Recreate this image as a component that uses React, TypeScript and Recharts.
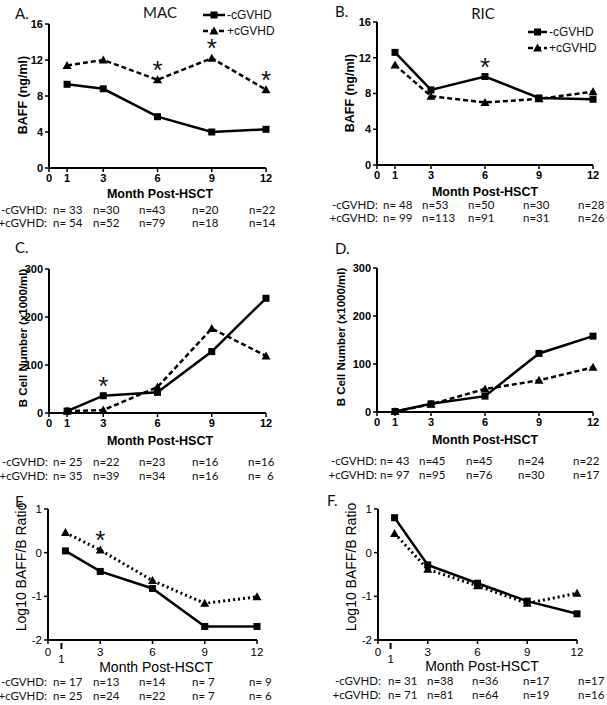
import React from 'react';
import { LineChart, Line, XAxis, YAxis } from 'recharts';

const months = [1, 3, 6, 9, 12];
const monthTicks = [0, 1, 3, 6, 9, 12];

// A. MAC - BAFF (ng/ml)
const macBaffNeg = [9.3, 8.8, 5.7, 4.0, 4.3];
const macBaffPos = [11.4, 12.0, 9.8, 12.2, 8.7];
const macBaffStars = [6, 9, 12];
// B. RIC - BAFF (ng/ml)
const ricBaffNeg = [12.6, 8.4, 9.9, 7.5, 7.35];
const ricBaffPos = [11.2, 7.7, 7.0, 7.4, 8.2];
const ricBaffStars = [6];
// C. MAC - B cell number (x1000/ml)
const macBcellNeg = [4, 36, 43, 128, 239];
const macBcellPos = [4, 6, 54, 176, 119];
const macBcellStars = [3];
// D. RIC - B cell number (x1000/ml)
const ricBcellNeg = [1, 17, 33, 122, 158];
const ricBcellPos = [1, 16, 48, 66, 93];
// E. MAC - log10 BAFF/B ratio
const macRatioNeg = [0.04, -0.43, -0.82, -1.69, -1.69];
const macRatioPos = [0.46, 0.06, -0.64, -1.16, -1.01];
const macRatioStars = [3];
// F. RIC - log10 BAFF/B ratio
const ricRatioNeg = [0.8, -0.28, -0.7, -1.11, -1.4];
const ricRatioPos = [0.44, -0.38, -0.76, -1.16, -0.93];

const baffTicks = [0, 4, 8, 12, 16];
const bcellTicks = [0, 100, 200, 300];
const ratioTicks = [-2, -1, 0, 1];

// patients per time point
const nMacBaffNeg = ['n= 33', 'n=30', 'n=43', 'n=20', 'n=22'];
const nMacBaffPos = ['n= 54', 'n=52', 'n=79', 'n=18', 'n=14'];
const nRicBaffNeg = ['n= 48', 'n=53', 'n=50', 'n=30', 'n=28'];
const nRicBaffPos = ['n= 99', 'n=113', 'n=91', 'n=31', 'n=26'];
const nMacBcellNeg = ['n= 25', 'n=22', 'n=23', 'n=16', 'n=16'];
const nMacBcellPos = ['n= 35', 'n=39', 'n=34', 'n=16', 'n=  6'];
const nRicBcellNeg = ['n= 43', 'n=45', 'n=45', 'n=24', 'n=22'];
const nRicBcellPos = ['n= 97', 'n=95', 'n=76', 'n=30', 'n=17'];
const nMacRatioNeg = ['n= 17', 'n=13', 'n=14', 'n= 7', 'n= 9'];
const nMacRatioPos = ['n= 25', 'n=24', 'n=22', 'n= 7', 'n= 6'];
const nRicRatioNeg = ['n= 31', 'n=38', 'n=36', 'n=17', 'n=17'];
const nRicRatioPos = ['n= 71', 'n=81', 'n=64', 'n=19', 'n=16'];

const negName = '-cGVHD';
const posName = '+cGVHD';
const xTitle = 'Month Post-HSCT';
const baffTitle = 'BAFF (ng/ml)';
const bcellTitle = 'B Cell Number (x1000/ml)';
const ratioTitle = 'Log10 BAFF/B Ratio';

const AXIS_FONT = '"Liberation Sans", Arial, sans-serif';
const TEXT_FONT = 'Lato, "Open Sans", sans-serif';

const makeDot = (shape: 'square' | 'tri', stars: number[]) => (p: any) => {
  const { cx, cy, index, payload } = p;
  if (cx == null || cy == null) return <g key={`d${index}`} />;
  const star = stars.includes(payload.month);
  return (
    <g key={`d${shape}${index}`}>
      {shape === 'square' ? (
        <rect x={cx - 3.5} y={cy - 3.5} width={7} height={7} fill="#000" />
      ) : (
        <polygon
          points={`${cx},${cy - 4.5} ${cx + 4.5},${cy + 3.5} ${cx - 4.5},${cy + 3.5}`}
          fill="#000"
        />
      )}
      {star && (
        <text x={cx} y={cy - 1} textAnchor="middle" fontSize={26} fontFamily={AXIS_FONT} fill="#111">
          *
        </text>
      )}
    </g>
  );
};

// E/F style ticks: the "1" sits lower with its own short mark
const RatioTick = (p: any) => {
  const { x, y, payload } = p;
  const one = payload.value === 1;
  return (
    <g>
      {one ? (
        <line x1={x - 4} x2={x - 4} y1={y - 3} y2={y + 3} stroke="#000" strokeWidth={2} />
      ) : (
        <line x1={x} x2={x} y1={y - 6} y2={y - 2} stroke="#000" strokeWidth={1.5} />
      )}
      <text
        x={one ? x - 4 : x}
        y={one ? y + 17 : y + 10}
        textAnchor="middle"
        fontSize={11.5}
        fontFamily={AXIS_FONT}
        fill="#000"
      >
        {payload.value}
      </text>
    </g>
  );
};

type PanelProps = {
  left: number;
  top: number;
  width: number;
  height: number;
  mTop: number;
  mRight: number;
  yWidth: number;
  xHeight: number;
  neg: number[];
  pos: number[];
  yDomain: [number, number];
  yTicks: number[];
  posDash: string;
  negStars: number[];
  posStars: number[];
  ratio?: boolean;
};

function Panel(props: PanelProps) {
  const rows = months.map((m, i) => ({ month: m, neg: props.neg[i], pos: props.pos[i] }));
  return (
    <div style={{ position: 'absolute', left: props.left, top: props.top }}>
      <LineChart
        width={props.width}
        height={props.height}
        data={rows}
        margin={{ top: props.mTop, right: props.mRight, left: 0, bottom: 0 }}
      >
        <XAxis
          dataKey="month"
          type="number"
          domain={[0, 12]}
          ticks={monthTicks}
          interval={0}
          height={props.xHeight}
          axisLine={{ stroke: '#000', strokeWidth: 2 }}
          tickLine={props.ratio ? false : { stroke: '#000', strokeWidth: 1.5 }}
          tickSize={4}
          tickMargin={2}
          tick={
            props.ratio
              ? RatioTick
              : { fontSize: 11, fontWeight: 700, fill: '#000', fontFamily: AXIS_FONT }
          }
        />
        <YAxis
          type="number"
          domain={props.yDomain}
          ticks={props.yTicks}
          interval={0}
          width={props.yWidth}
          axisLine={{ stroke: '#000', strokeWidth: 2 }}
          tickLine={{ stroke: '#000', strokeWidth: 1.5 }}
          tickSize={4}
          tickMargin={2}
          tick={{
            fontSize: props.ratio ? 11.5 : 11,
            fontWeight: props.ratio ? 400 : 700,
            fill: '#000',
            fontFamily: AXIS_FONT,
          }}
        />
        <Line
          dataKey="pos"
          name={posName}
          type="linear"
          stroke="#000"
          strokeWidth={props.ratio ? 3 : 2.5}
          strokeDasharray={props.posDash}
          dot={makeDot('tri', props.posStars)}
          activeDot={false}
          isAnimationActive={false}
        />
        <Line
          dataKey="neg"
          name={negName}
          type="linear"
          stroke="#000"
          strokeWidth={2.5}
          dot={makeDot('square', props.negStars)}
          activeDot={false}
          isAnimationActive={false}
        />
      </LineChart>
    </div>
  );
}

type TableProps = {
  labelRight: number;
  cols: number[];
  rowY: [number, number];
  neg: string[];
  pos: string[];
};

function NTable({ labelRight, cols, rowY, neg, pos }: TableProps) {
  const rows: [string, string[], number][] = [
    [negName + ':', neg, rowY[0]],
    [posName + ':', pos, rowY[1]],
  ];
  return (
    <g fontFamily={TEXT_FONT} fontSize={11.5} fill="#111">
      {rows.map(([label, vals, y]) => (
        <g key={label}>
          <text x={labelRight} y={y} textAnchor="end" style={{ whiteSpace: 'pre' }}>
            {label}
          </text>
          {vals.map((v, i) => (
            <text key={i} x={cols[i]} y={y} style={{ whiteSpace: 'pre' }}>
              {v}
            </text>
          ))}
        </g>
      ))}
    </g>
  );
}

function LegendKey({ x1, x2, y }: { x1: number; x2: number; y: number }) {
  const mid = (x1 + x2) / 2;
  return (
    <g fontFamily={AXIS_FONT} fontSize={12} fill="#111">
      <line x1={x1} x2={x2} y1={y} y2={y} stroke="#000" strokeWidth={2.5} />
      <rect x={mid - 3.5} y={y - 3.5} width={7} height={7} fill="#000" />
      <text x={x2 + 2} y={y + 4}>{negName}</text>
      <line x1={x1} x2={x2} y1={y + 16} y2={y + 16} stroke="#000" strokeWidth={2.5} strokeDasharray="5 3" />
      <polygon
        points={`${mid},${y + 11.5} ${mid + 4.5},${y + 19.5} ${mid - 4.5},${y + 19.5}`}
        fill="#000"
      />
      <text x={x2 + 2} y={y + 20}>{posName}</text>
    </g>
  );
}

function YTitle({ x, y, text, size, bold }: { x: number; y: number; text: string; size: number; bold: boolean }) {
  return (
    <text
      transform={`translate(${x},${y}) rotate(-90)`}
      textAnchor="middle"
      dominantBaseline="central"
      fontFamily={AXIS_FONT}
      fontSize={size}
      fontWeight={bold ? 700 : 400}
      fill="#000"
      style={{ whiteSpace: 'pre' }}
    >
      {text}
    </text>
  );
}

function XTitle({ x, y, size, bold }: { x: number; y: number; size: number; bold: boolean }) {
  return (
    <text
      x={x}
      y={y}
      textAnchor="middle"
      fontFamily={AXIS_FONT}
      fontSize={size}
      fontWeight={bold ? 700 : 400}
      fill="#000"
    >
      {xTitle}
    </text>
  );
}

const leftCols = [53, 93, 139, 192, 249];

export default function App() {
  return (
    <div
      style={{
        position: 'absolute',
        left: 0,
        top: 0,
        width: 607,
        height: 705,
        background: '#fff',
        fontFamily: AXIS_FONT,
      }}
    >
      <Panel
        left={0} top={0} width={300} height={200}
        mTop={24} mRight={34} yWidth={49} xHeight={32}
        neg={macBaffNeg} pos={macBaffPos}
        yDomain={[0, 16]} yTicks={baffTicks}
        posDash="5 3" negStars={[]} posStars={macBaffStars}
      />
      <Panel
        left={300} top={0} width={307} height={198}
        mTop={22} mRight={14} yWidth={77} xHeight={33}
        neg={ricBaffNeg} pos={ricBaffPos}
        yDomain={[0, 16]} yTicks={baffTicks}
        posDash="5 3" negStars={ricBaffStars} posStars={[]}
      />
      <Panel
        left={0} top={240} width={300} height={205}
        mTop={29} mRight={34} yWidth={49} xHeight={32}
        neg={macBcellNeg} pos={macBcellPos}
        yDomain={[0, 300]} yTicks={bcellTicks}
        posDash="5 3" negStars={macBcellStars} posStars={[]}
      />
      <Panel
        left={300} top={240} width={307} height={205}
        mTop={28} mRight={14} yWidth={77} xHeight={33}
        neg={ricBcellNeg} pos={ricBcellPos}
        yDomain={[0, 300]} yTicks={bcellTicks}
        posDash="5 3" negStars={[]} posStars={[]}
      />
      <Panel
        left={0} top={480} width={300} height={192}
        mTop={29} mRight={43} yWidth={48} xHeight={32}
        neg={macRatioNeg} pos={macRatioPos}
        yDomain={[-2, 1]} yTicks={ratioTicks}
        posDash="2 3" negStars={[]} posStars={macRatioStars} ratio
      />
      <Panel
        left={300} top={480} width={307} height={192}
        mTop={29} mRight={30} yWidth={78} xHeight={32}
        neg={ricRatioNeg} pos={ricRatioPos}
        yDomain={[-2, 1]} yTicks={ratioTicks}
        posDash="2 3" negStars={[]} posStars={[]} ratio
      />

      <svg
        width={607}
        height={705}
        style={{ position: 'absolute', left: 0, top: 0, pointerEvents: 'none' }}
      >
        <g fontFamily={TEXT_FONT} fontSize={15} fill="#111">
          <text x={15} y={19}>A.</text>
          <text x={160} y={18} textAnchor="middle">MAC</text>
          <text x={335} y={17}>B.</text>
          <text x={483} y={19} textAnchor="middle">RIC</text>
          <text x={15} y={253}>C.</text>
          <text x={335} y={254}>D.</text>
          <text x={15} y={507}>E.</text>
          <text x={327} y={506}>F.</text>
        </g>

        <YTitle x={23} y={95} text={baffTitle} size={12.5} bold />
        <YTitle x={350} y={93} text={baffTitle} size={12.5} bold />
        <YTitle x={23} y={338} text={bcellTitle} size={11.5} bold />
        <YTitle x={341} y={337} text={bcellTitle} size={11.5} bold />
        <YTitle x={21} y={567} text={ratioTitle} size={14} bold={false} />
        <YTitle x={351} y={567} text={ratioTitle} size={14} bold={false} />

        <XTitle x={160} y={198} size={12.5} bold />
        <XTitle x={485} y={196} size={12.5} bold />
        <XTitle x={160} y={445} size={12.5} bold />
        <XTitle x={485} y={444} size={12.5} bold />
        <XTitle x={156} y={672} size={14} bold={false} />
        <XTitle x={482} y={671} size={14} bold={false} />

        <LegendKey x1={203} x2={225} y={15} />
        <LegendKey x1={528} x2={547} y={32} />

        <NTable labelRight={47} cols={leftCols} rowY={[214, 227]} neg={nMacBaffNeg} pos={nMacBaffPos} />
        <NTable labelRight={378} cols={[383, 422, 468, 523, 578]} rowY={[209, 222]} neg={nRicBaffNeg} pos={nRicBaffPos} />
        <NTable labelRight={48} cols={[53, 93, 139, 192, 248]} rowY={[466, 480]} neg={nMacBcellNeg} pos={nMacBcellPos} />
        <NTable labelRight={377} cols={[380, 419, 466, 518, 573]} rowY={[465, 479]} neg={nRicBcellNeg} pos={nRicBcellPos} />
        <NTable labelRight={47} cols={leftCols} rowY={[686, 700]} neg={nMacRatioNeg} pos={nMacRatioPos} />
        <NTable labelRight={381} cols={[388, 427, 472, 523, 578]} rowY={[685, 699]} neg={nRicRatioNeg} pos={nRicRatioPos} />
      </svg>
    </div>
  );
}
